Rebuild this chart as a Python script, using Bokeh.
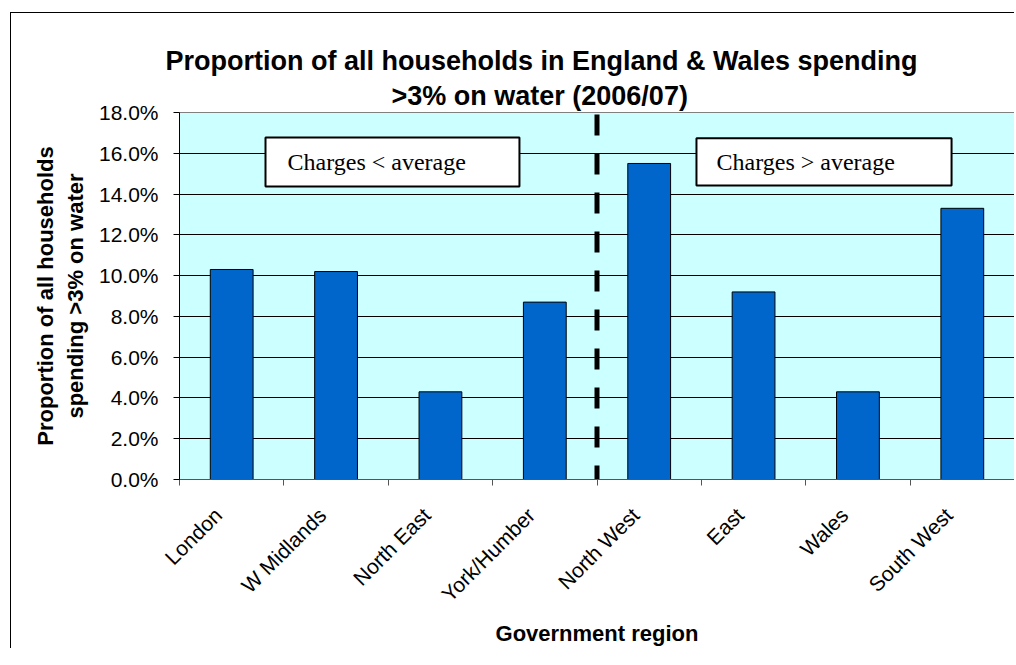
import math
from bokeh.plotting import figure
from bokeh.models import (Range1d, FixedTicker, PrintfTickFormatter, Title, Label,
                          BoxAnnotation, ColumnDataSource)
from bokeh.embed import file_html
from bokeh.resources import INLINE

# ---- data ----
regions = ["London", "W Midlands", "North East", "York/Humber",
           "North West", "East", "Wales", "South West"]
share_pct = [10.3, 10.2, 4.3, 8.7, 15.5, 9.2, 4.3, 13.3]
below_avg_regions = ["London", "W Midlands", "North East", "York/Humber"]
y_ticks = [0, 2, 4, 6, 8, 10, 12, 14, 16, 18]
title_line1 = "Proportion of all households in England & Wales spending"
title_line2 = ">3% on water  (2006/07)"
y_title = "Proportion of all households\nspending >3% on water"
x_title = "Government region"
note_left = "Charges < average"
note_right = "Charges > average"

n = len(regions)
centers = [i + 0.5 for i in range(n)]
label_pos = [c - 0.13 for c in centers]   # rotated labels end slightly left of bar centre
divider = len(below_avg_regions)
y_max = y_ticks[-1]

src = ColumnDataSource(dict(x=centers, top=share_pct, region=regions))

p = figure(frame_width=835, frame_height=367,
           x_range=Range1d(0, n), y_range=Range1d(0, y_max),
           output_backend="svg", toolbar_location=None,
           min_border_left=168, min_border_right=0,
           min_border_top=99, min_border_bottom=150)
p.margin = (12, 0, 0, 10)
p.styles = {"border-left": "1px solid #000000", "border-top": "1px solid #000000"}

p.background_fill_color = "#CCFFFF"
p.border_fill_color = "white"
p.outline_line_color = "#808080"
p.outline_line_width = 1

# bars
p.vbar(x="x", top="top", width=0.41, source=src,
       fill_color="#0066CC", line_color="black", line_width=1)

# divider dashed line
p.segment(x0=[divider], y0=[0], x1=[divider], y1=[y_max],
          line_color="black", line_width=5, line_dash="21 18", line_dash_offset=7)

# notes
p.add_layout(BoxAnnotation(left=0.824, right=3.257, bottom=14.37, top=16.77,
                           fill_color="white", fill_alpha=1.0,
                           line_color="black", line_width=2, line_alpha=1.0))
p.add_layout(Label(x=1.035, y=15.55, text=note_left, text_font="Liberation Serif",
                   text_font_size="24px", text_baseline="middle", text_color="black"))
p.add_layout(BoxAnnotation(left=4.953, right=7.397, bottom=14.42, top=16.74,
                           fill_color="white", fill_alpha=1.0,
                           line_color="black", line_width=2, line_alpha=1.0))
p.add_layout(Label(x=5.145, y=15.55, text=note_right, text_font="Liberation Serif",
                   text_font_size="24px", text_baseline="middle", text_color="black"))

# titles (line 2 nearest the plot, added first)
p.title = None
t2 = Title(text=title_line2, align="left", offset=212, standoff=3,
           text_font="Liberation Sans", text_font_size="27px",
           text_font_style="bold", text_color="black")
t1 = Title(text=title_line1, align="left", offset=-14, standoff=4,
           text_font="Liberation Sans", text_font_size="27px",
           text_font_style="bold", text_color="black")
p.add_layout(t2, "above")
p.add_layout(t1, "above")

# grid
p.xgrid.visible = False
p.ygrid.ticker = FixedTicker(ticks=y_ticks)
p.ygrid.grid_line_color = "black"
p.ygrid.grid_line_width = 1

# y axis
ya = p.yaxis[0]
ya.ticker = FixedTicker(ticks=y_ticks)
ya.formatter = PrintfTickFormatter(format="%.1f%%")
ya.major_tick_out = 6
ya.major_tick_in = 0
ya.minor_tick_out = 0
ya.minor_tick_in = 0
ya.axis_line_color = "black"
ya.major_tick_line_color = "black"
ya.major_label_text_font = "Liberation Sans"
ya.major_label_text_font_size = "21px"
ya.major_label_text_color = "black"
ya.major_label_standoff = 15
ya.axis_label = y_title
ya.axis_label_text_font = "Liberation Sans"
ya.axis_label_text_font_size = "22px"
ya.axis_label_text_font_style = "bold"
ya.axis_label_text_color = "black"
ya.axis_label_standoff = 8

# x axis
xa = p.xaxis[0]
xa.ticker = FixedTicker(ticks=label_pos, minor_ticks=list(range(n + 1)))
xa.major_label_overrides = {c: r for c, r in zip(label_pos, regions)}
xa.major_label_orientation = math.pi / 4
xa.major_tick_out = 0
xa.major_tick_in = 0
xa.minor_tick_out = 6
xa.minor_tick_in = 0
xa.minor_tick_line_color = "#555555"
xa.axis_line_color = "#555555"
xa.major_label_text_font = "Liberation Sans"
xa.major_label_text_font_size = "21px"
xa.major_label_text_color = "black"
xa.major_label_standoff = 26
xa.axis_label = x_title
xa.axis_label_text_font = "Liberation Sans"
xa.axis_label_text_font_size = "22px"
xa.axis_label_text_font_style = "bold"
xa.axis_label_text_color = "black"
xa.axis_label_standoff = 4

open("out.html", "w").write(file_html(p, INLINE))
